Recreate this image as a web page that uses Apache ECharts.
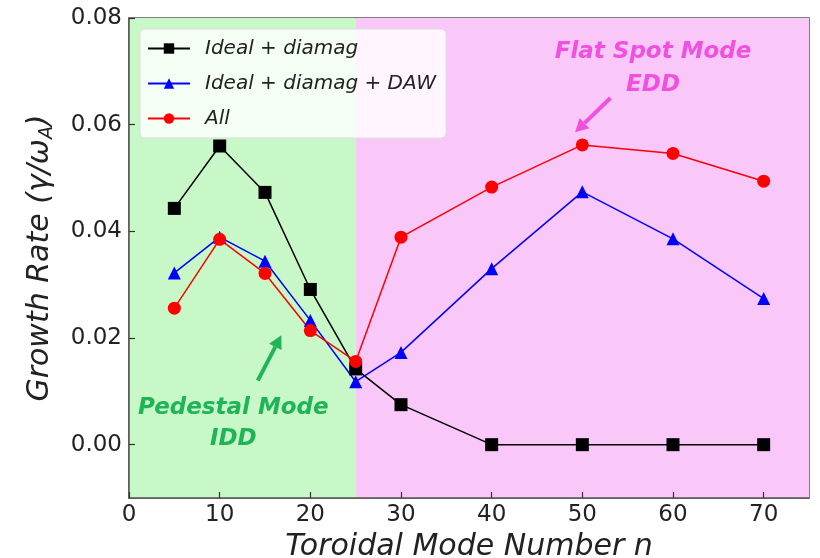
<!DOCTYPE html>
<html>
<head>
<meta charset="utf-8">
<script src="https://cdn.jsdelivr.net/npm/echarts@6/dist/echarts.min.js"></script>
<style>
  html, body { margin: 0; padding: 0; background: #fff; }
  #chart { width: 820px; height: 558px; }
</style>
</head>
<body>
<div id="chart"></div>
<script>
// Toroidal mode numbers and growth rates for the three model variants
const modeNumbers = [5, 10, 15, 20, 25, 30, 40, 50, 60, 70];
const idealDiamag = [0.0443, 0.0560, 0.0473, 0.0291, 0.0142, 0.0075, 0.0, 0.0, 0.0, 0.0];
const idealDiamagDaw = [0.0322, 0.0389, 0.0344, 0.0233, 0.0118, 0.0173, 0.0330, 0.0474, 0.0386, 0.0274];
const allEffects = [0.0256, 0.0385, 0.0321, 0.0214, 0.0156, 0.0389, 0.0483, 0.0562, 0.0546, 0.0494];

const seriesNames = ['Ideal + diamag', 'Ideal + diamag + DAW', 'All'];

// Axis ticks
const xTicks = [0, 10, 20, 30, 40, 50, 60, 70];
const yTicks = [0, 0.02, 0.04, 0.06, 0.08];

// Shaded regimes along n
const pedestalRange = [0, 25];
const flatSpotRange = [25, 75];

const chart = echarts.init(document.getElementById('chart'), null, { renderer: 'canvas' });

const pair = (ys) => modeNumbers.map((n, i) => [n, ys[i]]);
const labelFont = 'DejaVu Sans';

const lineSeries = (name, ys, color, symbol, size) => ({
  name: name,
  type: 'line',
  data: pair(ys),
  symbol: symbol,
  symbolSize: size,
  z: 5,
  lineStyle: { color: color, width: 1.5 },
  itemStyle: { color: color },
  emphasis: { disabled: true },
  animation: false
});

const option = {
  animation: false,
  grid: {
    left: 129, right: 11, top: 18, bottom: 60,
    outerBoundsMode: 'none',
    containLabel: false,
    show: true, borderColor: '#555', borderWidth: 1.5,
    backgroundColor: 'transparent'
  },
  xAxis: {
    type: 'value', min: 0, max: 75, interval: 5,
    z: 10,
    name: 'Toroidal Mode Number n',
    nameLocation: 'middle', nameGap: 30,
    nameTextStyle: { fontFamily: labelFont, fontStyle: 'italic', fontSize: 30, color: '#222' },
    axisLine: { show: true, onZero: false, lineStyle: { color: '#555', width: 1.5 } },
    axisTick: { show: true, inside: true, length: 6, customValues: xTicks, lineStyle: { color: '#333', width: 1.2 } },
    axisLabel: { customValues: xTicks, fontFamily: labelFont, fontSize: 23, color: '#222', margin: 6 },
    splitLine: { show: false }
  },
  yAxis: {
    type: 'value', min: -0.01, max: 0.08, interval: 0.01,
    z: 10,
    name: '{t|Growth Rate (γ/ω}{s|A}{t|)}',
    nameLocation: 'middle', nameGap: 72,
    nameTextStyle: {
      rich: {
        t: { fontFamily: labelFont, fontStyle: 'italic', fontSize: 30, color: '#222' },
        s: { fontFamily: labelFont, fontStyle: 'italic', fontSize: 19, color: '#222', verticalAlign: 'bottom', padding: [14, 0, 0, 0] }
      }
    },
    axisLine: { show: true, onZero: false, lineStyle: { color: '#555', width: 1.5 } },
    axisTick: { show: true, inside: true, length: 6, customValues: yTicks, lineStyle: { color: '#333', width: 1.2 } },
    axisLabel: {
      customValues: yTicks, fontFamily: labelFont, fontSize: 23, color: '#222', margin: 7,
      formatter: (v) => v.toFixed(2)
    },
    splitLine: { show: false }
  },
  legend: {
    left: 140, top: 29,
    orient: 'vertical',
    data: seriesNames,
    itemWidth: 42, itemHeight: 13, itemGap: 14,
    padding: [9, 10, 9, 7],
    backgroundColor: 'rgba(255,255,255,0.82)',
    borderColor: 'rgba(220,220,220,0.9)', borderWidth: 1, borderRadius: 5,
    textStyle: { fontFamily: labelFont, fontStyle: 'italic', fontSize: 20, lineHeight: 21, color: '#222', padding: [0, 0, 0, 10] }
  },
  series: [
    {
      name: 'regions', type: 'line', data: [], silent: true, z: 1,
      markArea: {
        silent: true,
        data: [
          [{ xAxis: pedestalRange[0], itemStyle: { color: '#c8f8c8' } }, { xAxis: pedestalRange[1] }],
          [{ xAxis: flatSpotRange[0], itemStyle: { color: '#f9c8f9' } }, { xAxis: flatSpotRange[1] }]
        ]
      }
    },
    lineSeries(seriesNames[0], idealDiamag, '#000000', 'rect', 13),
    lineSeries(seriesNames[1], idealDiamagDaw, '#0000ff', 'triangle', 13),
    lineSeries(seriesNames[2], allEffects, '#ff0000', 'circle', 13)
  ]
};

chart.setOption(option);

// Annotations placed in data coordinates
const toPx = (x, y) => chart.convertToPixel({ gridIndex: 0 }, [x, y]);

function arrow(from, to, color) {
  const a = toPx(from[0], from[1]);
  const b = toPx(to[0], to[1]);
  const ang = Math.atan2(b[1] - a[1], b[0] - a[0]);
  const headLen = 13, headW = 7;
  const base = [b[0] - headLen * Math.cos(ang), b[1] - headLen * Math.sin(ang)];
  const nx = -Math.sin(ang), ny = Math.cos(ang);
  return [
    { type: 'line', z: 20, shape: { x1: a[0], y1: a[1], x2: base[0], y2: base[1] }, style: { stroke: color, lineWidth: 4 } },
    { type: 'polygon', z: 20, shape: { points: [b, [base[0] + nx * headW, base[1] + ny * headW], [base[0] - nx * headW, base[1] - ny * headW]] }, style: { fill: color } }
  ];
}

function label(text, x, y, color) {
  const p = toPx(x, y);
  return {
    type: 'text', z: 20, x: p[0], y: p[1],
    style: {
      text: text, fill: color, align: 'center', verticalAlign: 'middle',
      font: 'italic bold 23px "DejaVu Sans"'
    }
  };
}

const magenta = '#f050e0';
const green = '#1fb456';

chart.setOption({
  graphic: [
    label('Flat Spot Mode', 57.8, 0.0736, magenta),
    label('EDD', 57.8, 0.0674, magenta),
    ...arrow([53.1, 0.0650], [49.2, 0.0586], magenta),
    label('Pedestal Mode', 11.5, 0.0069, green),
    label('IDD', 11.5, 0.0011, green),
    ...arrow([14.2, 0.0120], [16.8, 0.0205], green)
  ]
});
</script>
</body>
</html>
